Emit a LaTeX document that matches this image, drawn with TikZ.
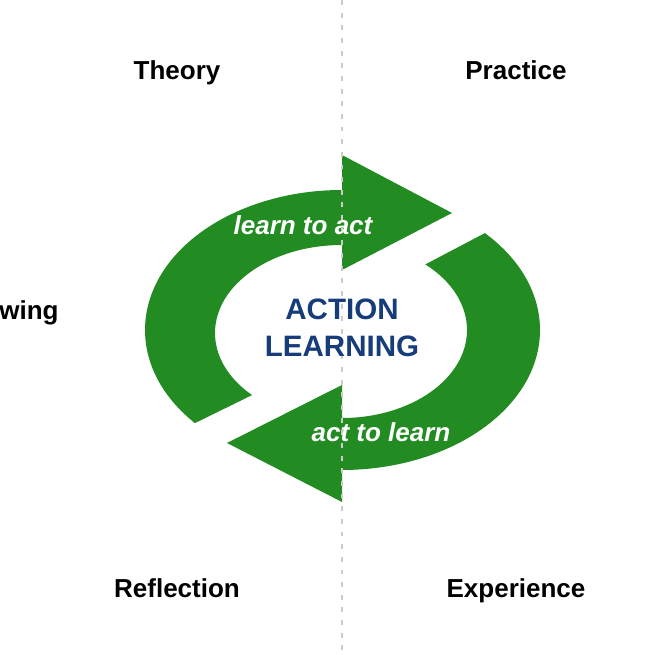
\documentclass[tikz,border=0pt]{standalone}
\usepackage{fontspec}
\setsansfont{Liberation Sans}
\usepackage{tikz}
\usetikzlibrary{calc}
\definecolor{loopgreen}{RGB}{34,139,34}
\definecolor{coreblue}{RGB}{22,60,122}

\begin{document}
\begin{tikzpicture}[
  x=0.025cm, y=0.025cm,
  quad/.style={font=\sffamily\bfseries\fontsize{18.5}{22}\selectfont, text=black, anchor=base},
  loopfill/.style={fill=loopgreen},
  looptext/.style={font=\sffamily\bfseries\itshape\fontsize{18.5}{22}\selectfont, text=white},
  core/.style={font=\sffamily\bfseries\fontsize{21}{26}\selectfont, text=coreblue, align=center},
  divider/.style={draw=black!20, line width=1.3pt, dash pattern=on 3.5pt off 5.5pt},
]
\useasboundingbox (0,0) rectangle (655,655);

\coordinate (top) at (342,655);
\coordinate (bottom) at (342,0);
\coordinate (c) at (342,325);

% upper arrow, left side round to the tip on the right
\fill[loopfill] ($(c)+(221.7:197 and 140)$)
  arc[start angle=221.7, end angle=90, x radius=197, y radius=140]
  -- (342,500) -- (452,442) -- (342,385) -- (342,410)
  arc[start angle=90, end angle=224.9, x radius=127, y radius=88]
  -- cycle;
% lower arrow, right side round to the tip on the left
\fill[loopfill] ($(c)+(43.8:198 and 140)$)
  arc[start angle=43.8, end angle=-90, x radius=198, y radius=140]
  -- (342,153) -- (227,212) -- (342,270) -- (342,237)
  arc[start angle=-90, end angle=48.2, x radius=125, y radius=88]
  -- cycle;

\draw[divider] (top) -- (bottom);

\node[quad] (theory)     at (177,575) {Theory};
\node[quad] (practice)   at (516,575) {Practice};
\node[quad] (reflection) at (177,57)  {Reflection};
\node[quad] (experience) at (516,57)  {Experience};
\node[quad, anchor=base west, inner sep=0pt] (knowing) at (-1,335) {wing};

\node[looptext] (learnact) at (303,430) {learn to act};
\node[looptext] (actlearn) at (381,223) {act to learn};
\node[core] (action) at (342,327) {ACTION\\LEARNING};
\end{tikzpicture}
\end{document}
